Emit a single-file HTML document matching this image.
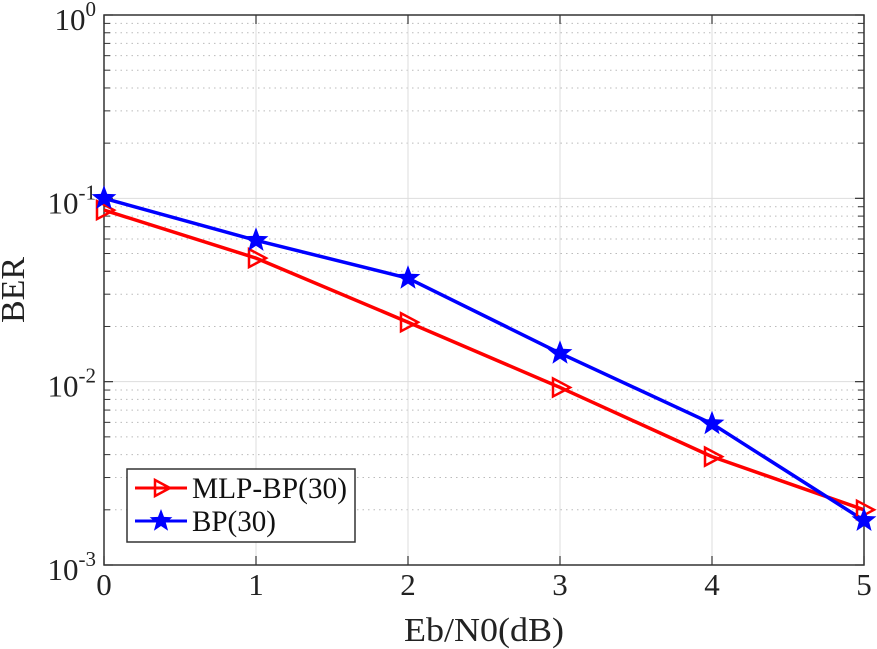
<!DOCTYPE html>
<html><head><meta charset="utf-8"><style>
html,body{margin:0;padding:0;background:#fff;}
svg{display:block;font-family:"Liberation Serif",serif;}
</style></head><body>
<svg id="chart" width="877" height="649" viewBox="0 0 877 649" xmlns="http://www.w3.org/2000/svg">
<rect x="0" y="0" width="877" height="649" fill="#fff"/>
<g id="grid"></g>
<g id="axes"></g>
<g id="series"></g>
<text transform="translate(24,290) rotate(-90)" text-anchor="middle" font-size="34" textLength="66" lengthAdjust="spacingAndGlyphs" fill="#222">BER</text>
<text x="484" y="641" text-anchor="middle" font-size="34" textLength="160" lengthAdjust="spacingAndGlyphs" fill="#222">Eb/N0(dB)</text>
<g>
<rect x="127" y="469" width="228" height="73" fill="#fff" stroke="#333" stroke-width="1.5"/>
<line x1="135" y1="488" x2="187" y2="488" stroke="#f00" stroke-width="3"/>
<path d="M155 480 L170 488 L155 496 Z" fill="none" stroke="#f00" stroke-width="2.5"/>
<text x="192" y="498" font-size="30" textLength="155" lengthAdjust="spacingAndGlyphs" fill="#111">MLP-BP(30)</text>
<line x1="135" y1="521" x2="187" y2="521" stroke="#00f" stroke-width="3"/>
<path id="legstar" fill="#00f"/>
<text x="192" y="531" font-size="30" textLength="84" lengthAdjust="spacingAndGlyphs" fill="#111">BP(30)</text>
</g>
</svg>
<script>
const xCategories = [0, 1, 2, 3, 4, 5];
const mlpValues = [0.0863, 0.0472, 0.0211, 0.0093, 0.0039, 0.0020];
const bpValues = [0.100, 0.059, 0.0367, 0.0143, 0.0059, 0.00175];
const yTickExps = [0, -1, -2, -3];

const L=104,R=864,T=15,B=565;
const xs=v=>L+(v-0)/(5-0)*(R-L);
const ys=v=>T+(0-Math.log10(v))/3*(B-T);
const NS="http://www.w3.org/2000/svg";
function mk(tag,attrs,parent){const e=document.createElementNS(NS,tag);for(const k in attrs)e.setAttribute(k,attrs[k]);parent.appendChild(e);return e;}
const grid=document.getElementById('grid'),axes=document.getElementById('axes'),ser=document.getElementById('series');

for(let d=-3;d<0;d++){for(let m=2;m<=9;m++){const y=ys(m*Math.pow(10,d));
 const l=mk('line',{x1:L,x2:R,y1:y,y2:y,stroke:'#bbb','stroke-width':1,'stroke-dasharray':'1.5,4'},grid);
 
 mk('line',{x1:L,x2:L+6,y1:y,y2:y,stroke:'#333','stroke-width':1},axes);
 mk('line',{x1:R,x2:R-6,y1:y,y2:y,stroke:'#333','stroke-width':1},axes);
}}
yTickExps.forEach(e=>{const y=ys(Math.pow(10,e));
 const l=mk('line',{x1:L,x2:R,y1:y,y2:y,stroke:'#ddd','stroke-width':1},grid);
 
 mk('line',{x1:L,x2:L+9,y1:y,y2:y,stroke:'#333','stroke-width':1.2},axes);
 mk('line',{x1:R,x2:R-9,y1:y,y2:y,stroke:'#333','stroke-width':1.2},axes);
 const t=mk('text',{x:L-8,y:y+15,'text-anchor':'end','font-size':31,fill:'#222'},axes);
 
 t.textContent='10';const s=mk('tspan',{'font-size':21,dy:-14},t);s.textContent=String(e);
});
xCategories.forEach(v=>{const x=xs(v);
 const l=mk('line',{x1:x,x2:x,y1:T,y2:B,stroke:'#ddd','stroke-width':1},grid);
 
 mk('line',{x1:x,x2:x,y1:B,y2:B-9,stroke:'#333','stroke-width':1.2},axes);
 mk('line',{x1:x,x2:x,y1:T,y2:T+9,stroke:'#333','stroke-width':1.2},axes);
 const t=mk('text',{x:x,y:B+30,'text-anchor':'middle','font-size':31,fill:'#222'},axes);
 
 t.textContent=String(v);
});
const box=mk('rect',{x:L,y:T,width:R-L,height:B-T,fill:'none',stroke:'#333','stroke-width':1.5},axes);


function star(cx,cy,r){let p='';for(let i=0;i<10;i++){const a=-Math.PI/2+i*Math.PI/5;const rr=i%2?r*0.42:r;p+=(i?'L':'M')+(cx+rr*Math.cos(a)).toFixed(1)+' '+(cy+rr*Math.sin(a)).toFixed(1);}return p+'Z';}
document.getElementById('legstar').setAttribute('d',star(161,521,12));

function line(vals,color,name){
 const pts=xCategories.map((v,i)=>xs(v)+','+ys(vals[i])).join(' ');
 const pl=mk('polyline',{points:pts,fill:'none',stroke:color,'stroke-width':3.5,'stroke-linejoin':'round'},ser);
 
}
line(mlpValues,'#f00','mlp-bp');
line(bpValues,'#00f','bp');
xCategories.forEach((v,i)=>{const x=xs(v),y=ys(mlpValues[i]);
 const m=mk('path',{d:`M${x-7} ${y-9} L${x+10} ${y} L${x-7} ${y+9} Z`,fill:'none',stroke:'#f00','stroke-width':2.5},ser);
 
});
xCategories.forEach((v,i)=>{const x=xs(v),y=ys(bpValues[i]);
 const m=mk('path',{d:star(x,y,13),fill:'#00f'},ser);
 
});
</script>
</body></html>
